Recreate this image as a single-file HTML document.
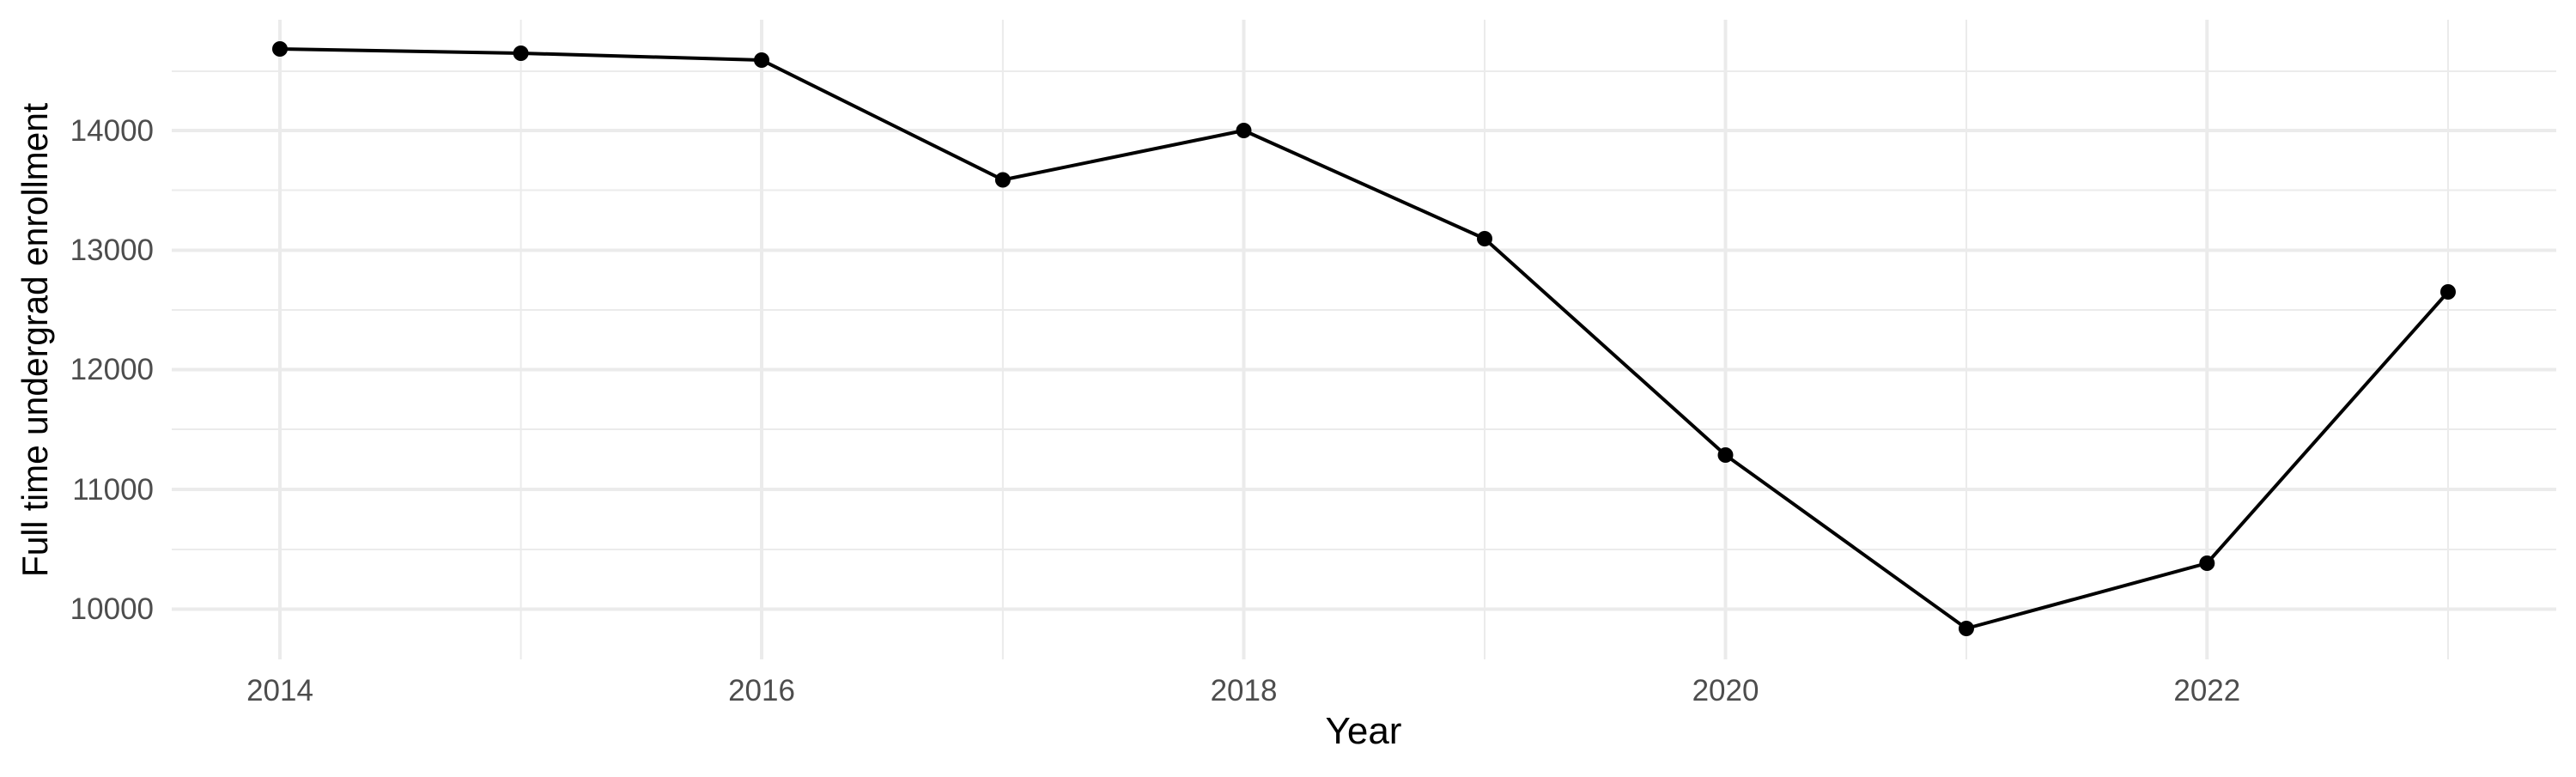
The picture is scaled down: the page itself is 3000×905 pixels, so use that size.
<!DOCTYPE html>
<html><head><meta charset="utf-8"><style>html,body{margin:0;padding:0;background:#fff}</style></head>
<body>
<svg width="3000" height="900" viewBox="0 0 3000 900" xmlns="http://www.w3.org/2000/svg" font-family="Liberation Sans, sans-serif">
<rect width="3000" height="900" fill="#fff"/>
<g stroke="#EBEBEB" stroke-width="2">
<line x1="200" x2="2977" y1="83" y2="83"/><line x1="200" x2="2977" y1="221.5" y2="221.5"/><line x1="200" x2="2977" y1="361" y2="361"/><line x1="200" x2="2977" y1="500" y2="500"/><line x1="200" x2="2977" y1="640" y2="640"/>
<line x1="606.6" x2="606.6" y1="23" y2="768"/><line x1="1167.9" x2="1167.9" y1="23" y2="768"/><line x1="1729" x2="1729" y1="23" y2="768"/><line x1="2290" x2="2290" y1="23" y2="768"/><line x1="2851" x2="2851" y1="23" y2="768"/>
</g>
<g stroke="#EBEBEB" stroke-width="4">
<line x1="200" x2="2977" y1="152" y2="152"/><line x1="200" x2="2977" y1="291.5" y2="291.5"/><line x1="200" x2="2977" y1="430.5" y2="430.5"/><line x1="200" x2="2977" y1="570" y2="570"/><line x1="200" x2="2977" y1="709.5" y2="709.5"/>
<line x1="326" x2="326" y1="23" y2="768"/><line x1="887" x2="887" y1="23" y2="768"/><line x1="1448.5" x2="1448.5" y1="23" y2="768"/><line x1="2009.5" x2="2009.5" y1="23" y2="768"/><line x1="2570.3" x2="2570.3" y1="23" y2="768"/>
</g>
<polyline fill="none" stroke="#000" stroke-width="4" stroke-linejoin="round" points="326,57 606.6,62 887,70 1167.9,209.5 1448.5,152 1729,278 2009.5,530 2290,732 2570.3,656 2851,340"/>
<g fill="#000">
<circle cx="326" cy="57" r="9"/><circle cx="606.6" cy="62" r="9"/><circle cx="887" cy="70" r="9"/><circle cx="1167.9" cy="209.5" r="9"/><circle cx="1448.5" cy="152" r="9"/><circle cx="1729" cy="278" r="9"/><circle cx="2009.5" cy="530" r="9"/><circle cx="2290" cy="732" r="9"/><circle cx="2570.3" cy="656" r="9"/><circle cx="2851" cy="340" r="9"/>
</g>
<g fill="#4D4D4D" font-size="35" text-anchor="end">
<text x="179" y="164">14000</text><text x="179" y="303">13000</text><text x="179" y="442">12000</text><text x="179" y="582">11000</text><text x="179" y="721">10000</text>
</g>
<g fill="#4D4D4D" font-size="35" text-anchor="middle">
<text x="326" y="816">2014</text><text x="887" y="816">2016</text><text x="1448.5" y="816">2018</text><text x="2009.5" y="816">2020</text><text x="2570.3" y="816">2022</text>
</g>
<text x="1588" y="866" font-size="44" text-anchor="middle" fill="#000">Year</text>
<text transform="translate(55,396) rotate(-90) scale(0.97,1)" font-size="42" text-anchor="middle" fill="#000">Full time undergrad enrollment</text>
</svg>
</body></html>
